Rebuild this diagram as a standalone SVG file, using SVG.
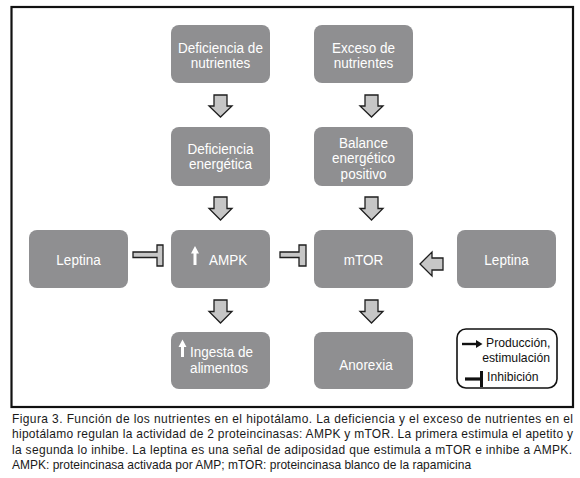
<svg xmlns="http://www.w3.org/2000/svg" width="580" height="478" viewBox="0 0 580 478">
<style>
.box{fill:#8f8f91}
.bt{font-family:"Liberation Sans",Arial,sans-serif;font-size:13.5px;fill:#ffffff}
.c{text-anchor:middle}
.blk{fill:#c6c6c6;stroke:#1e1e1e;stroke-width:1.3;stroke-linejoin:miter}
.cap{font-family:"Liberation Sans",Arial,sans-serif;font-size:12px;fill:#1a1a1a}
.lg{font-family:"Liberation Sans",Arial,sans-serif;font-size:12.2px;fill:#111}
</style>
<rect x="11.5" y="7" width="561.5" height="400" fill="#fff" stroke="#111" stroke-width="2.2"/>

<g id="n_def_nut">
<rect class="box" x="171" y="25" width="99" height="58" rx="8"/>
<text class="bt c" transform="translate(220.5,52.5) scale(1,1.1)"><tspan x="0" y="0">Deficiencia de</tspan><tspan x="0" dy="14.2">nutrientes</tspan></text>
</g>
<g id="n_exc_nut">
<rect class="box" x="314" y="25" width="99" height="58" rx="8"/>
<text class="bt c" transform="translate(363.5,52.5) scale(1,1.1)"><tspan x="0" y="0">Exceso de</tspan><tspan x="0" dy="14.2">nutrientes</tspan></text>
</g>
<g id="n_def_ene">
<rect class="box" x="171" y="127" width="99" height="59" rx="8"/>
<text class="bt c" transform="translate(220.5,154.3) scale(1,1.1)"><tspan x="0" y="0">Deficiencia</tspan><tspan x="0" dy="13.8">energética</tspan></text>
</g>
<g id="n_balance">
<rect class="box" x="314" y="127" width="99" height="59" rx="8"/>
<text class="bt c" transform="translate(363.5,147.5) scale(1,1.1)"><tspan x="0" y="0">Balance</tspan><tspan x="0" dy="14.1">energético</tspan><tspan x="0" dy="14.1">positivo</tspan></text>
</g>
<g id="n_leptina_l">
<rect class="box" x="29" y="230" width="99" height="58" rx="8"/>
<text class="bt c" transform="translate(78.5,265) scale(1,1.1)">Leptina</text>
</g>
<g id="n_ampk">
<rect class="box" x="171" y="230" width="99" height="58" rx="8"/>
<path d="M195,246 L199,253.5 H196.5 V265 H193.5 V253.5 H191 Z" fill="#fff"/>
<text class="bt" transform="translate(209,265) scale(1,1.1)">AMPK</text>
</g>
<g id="n_mtor">
<rect class="box" x="314" y="230" width="99" height="58" rx="8"/>
<text class="bt c" transform="translate(363.5,265) scale(1,1.1)">mTOR</text>
</g>
<g id="n_leptina_r">
<rect class="box" x="457" y="230" width="99" height="58" rx="8"/>
<text class="bt c" transform="translate(506.5,265) scale(1,1.1)">Leptina</text>
</g>
<g id="n_ingesta">
<rect class="box" x="171" y="332" width="99" height="57" rx="8"/>
<path d="M182.5,339.5 L186.5,347 H184 V357 H181 V347 H178.5 Z" fill="#fff"/>
<text class="bt" transform="translate(190,357) scale(1,1.1)">Ingesta de</text>
<text class="bt c" transform="translate(219,373) scale(1,1.1)">alimentos</text>
</g>
<g id="n_anorexia">
<rect class="box" x="314" y="332" width="99" height="57" rx="8"/>
<text class="bt c" transform="translate(366,369.5) scale(1,1.1)">Anorexia</text>
</g>

<g id="connectors">
<path class="blk" d="M214,95 H227 V106 H232 L220.5,117 L209,106 H214 Z"/>
<path class="blk" d="M365,95 H378 V106 H383 L371.5,117 L360,106 H365 Z"/>
<path class="blk" d="M214,197 H227 V208.5 H232 L220.5,220 L209,208.5 H214 Z"/>
<path class="blk" d="M365,197 H378 V208.5 H383 L371.5,220 L360,208.5 H365 Z"/>
<path class="blk" d="M214,300 H227 V311.5 H232 L220.5,323 L209,311.5 H214 Z"/>
<path class="blk" d="M365,300 H378 V311.5 H383 L371.5,323 L360,311.5 H365 Z"/>
<path class="blk" d="M420,264 L432,252 V258 H443 V270 H432 V276 Z"/>
<path class="blk" d="M133,252 H157 V245 H163 V266 H157 V257.5 H133 Z"/>
<path class="blk" d="M280,252 H299 V245 H306 V266 H299 V257.5 H280 Z"/>
</g>

<g id="legend">
<rect x="457" y="329" width="100" height="59" rx="9" fill="#fff" stroke="#111" stroke-width="1.6"/>
<line x1="462" y1="344" x2="476" y2="344" stroke="#111" stroke-width="2.4"/>
<path d="M476,340 L482.5,344 L476,348 Z" fill="#111"/>
<line x1="465" y1="379" x2="481" y2="379" stroke="#111" stroke-width="3.2"/>
<rect x="480" y="371" width="3" height="16" fill="#111"/>
<text class="lg" x="486" y="347">Producción,</text>
<text class="lg" x="550" y="362" text-anchor="end">estimulación</text>
<text class="lg" x="487" y="381">Inhibición</text>
</g>

<g id="caption">
<text class="cap" transform="translate(12,422.5) scale(1,1.12)" textLength="561" lengthAdjust="spacing">Figura 3. Función de los nutrientes en el hipotálamo. La deficiencia y el exceso de nutrientes en el</text>
<text class="cap" transform="translate(12,438) scale(1,1.12)" textLength="561" lengthAdjust="spacing">hipotálamo regulan la actividad de 2 proteincinasas: AMPK y mTOR. La primera estimula el apetito y</text>
<text class="cap" transform="translate(12,453.5) scale(1,1.12)" textLength="560" lengthAdjust="spacing">la segunda lo inhibe. La leptina es una señal de adiposidad que estimula a mTOR e inhibe a AMPK.</text>
<text class="cap" transform="translate(12,469) scale(1,1.12)">AMPK: proteincinasa activada por AMP; mTOR: proteincinasa blanco de la rapamicina</text>
</g>
</svg>
